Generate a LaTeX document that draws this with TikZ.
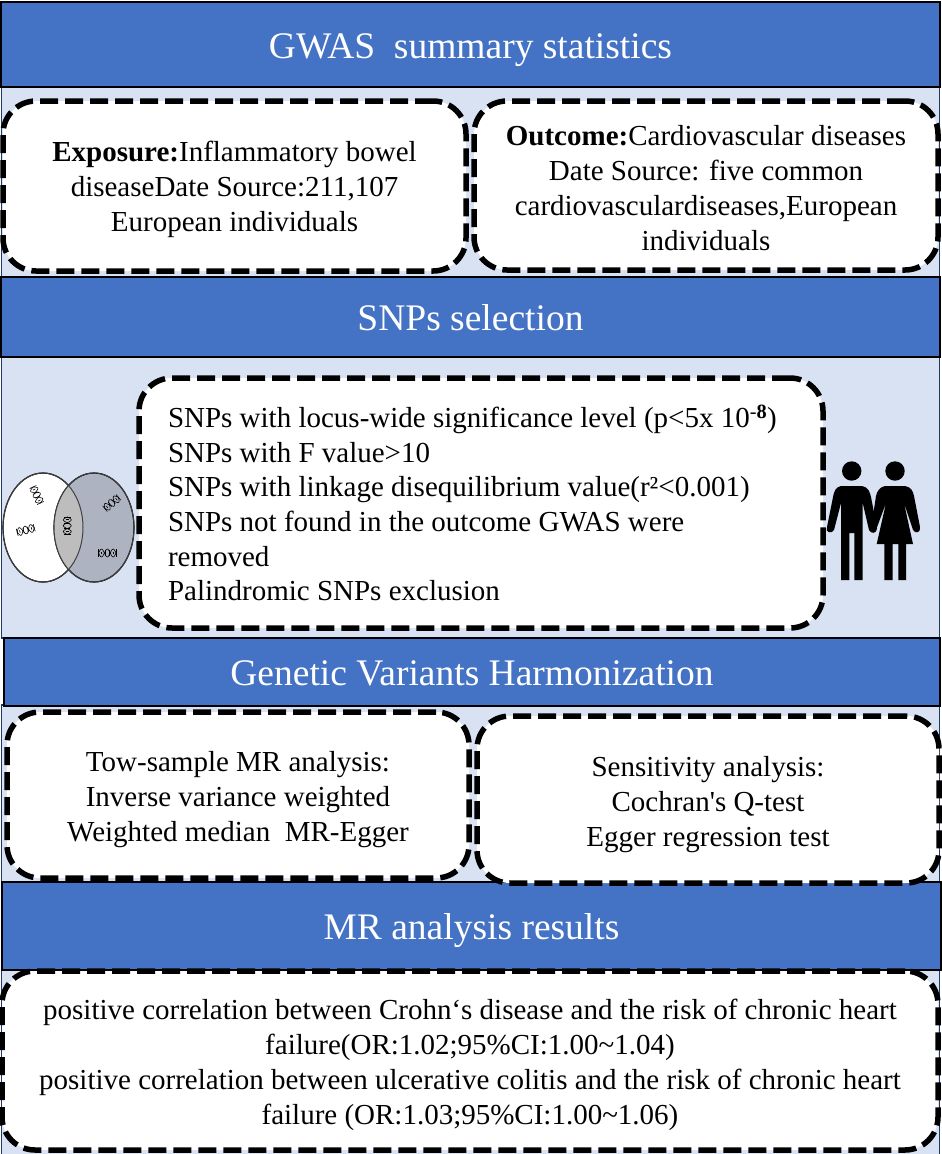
\documentclass[tikz,border=0pt]{standalone}
\usepackage{fontspec}
\setmainfont{Liberation Serif}
\definecolor{headblue}{HTML}{4472C4}
\definecolor{panelblue}{HTML}{D8E2F3}
\definecolor{paneledge}{HTML}{1F3864}
\definecolor{venngrey}{HTML}{ADB3C0}
\definecolor{overlapgrey}{HTML}{BDBDBD}
\tikzset{
  header/.style={draw=black, line width=2pt, fill=headblue, text=white, inner sep=0pt,
    font=\fontsize{37.5}{42}\selectfont},
  panel/.style={draw=paneledge, line width=1.5pt, fill=panelblue, inner sep=0pt},
  dashbox/.style={draw=black, fill=white, line width=5.5pt, rounded corners=33pt,
    dash pattern=on 18pt off 7pt, inner sep=0pt, align=center,
    font=\fontsize{29}{35}\selectfont},
  person/.style={fill=black, draw=none}
}
\newcommand{\headtext}[1]{\smash{\raisebox{-13.5pt}{#1}}}
\newcommand{\firstline}[1]{\rule{0pt}{#1pt}}
\newcommand{\dnaicon}[3]{%
  \begin{scope}[shift={(#1,#2)}, rotate=#3, scale=1.1, line width=0.6pt]
    \draw[smooth, samples=25, domain=-8:8] plot ({\x}, {3.6*cos(34*\x)});
    \draw[smooth, samples=25, domain=-8:8] plot ({\x}, {-3.6*cos(34*\x)});
    \draw (-8,-3.3) -- (-8,3.3) (-5.5,-1.2) -- (-5.5,1.2) (-2,-2.6) -- (-2,2.6)
      (2,-2.6) -- (2,2.6) (5.5,-1.2) -- (5.5,1.2) (8,-3.3) -- (8,3.3);
  \end{scope}}
\begin{document}
\begin{tikzpicture}[x=1pt, y=-1pt]
  \useasboundingbox (0,0) rectangle (942,1154);
  % panels behind the boxes
  \node[panel, minimum width=938, minimum height=190] (exposurepanel) at (470.5,182) {};
  \node[panel, minimum width=938, minimum height=282] (snppanel) at (470.5,497) {};
  \node[panel, minimum width=938, minimum height=178] (mrpanel) at (470.5,794) {};
  \node[panel, minimum width=938, minimum height=186] (resultpanel) at (470.5,1062) {};
  % headers
  \node[header, minimum width=939, minimum height=85] (gwas) at (470.5,44.5) {\headtext{GWAS\ \ summary statistics}};
  \node[header, minimum width=939, minimum height=80] (selection) at (470.5,317) {\headtext{SNPs selection}};
  \node[header, minimum width=936, minimum height=68] (harmonization) at (472,672) {\headtext{Genetic Variants Harmonization}};
  \node[header, minimum width=939, minimum height=88] (results) at (471.5,926) {\headtext{MR analysis results}};
  % dashed boxes
  \node[dashbox, minimum width=463, minimum height=170] (exposure) at (234.5,186)
    {\firstline{28}\textbf{Exposure:}Inflammatory bowel\\ diseaseDate Source:211,107\\ European individuals};
  \node[dashbox, minimum width=464, minimum height=169] (outcome) at (706,185.5)
    {\firstline{26}\textbf{Outcome:}Cardiovascular diseases\\ Date Source: five common\\ cardiovasculardiseases,European\\ individuals};
  \node[dashbox, minimum width=684, minimum height=250] (criteria) at (481,503)
    {\begin{minipage}{626pt}\fontsize{29}{34.6}\selectfont
      SNPs with locus-wide significance level (p<5x 10\textsuperscript{-\textbf{8}})\\
      SNPs with F value>10\\
      SNPs with linkage disequilibrium value(r²<0.001)\\
      SNPs not found in the outcome GWAS were\\
      removed\\
      Palindromic SNPs exclusion
    \end{minipage}};
  \node[dashbox, minimum width=462, minimum height=166] (twosample) at (238,795)
    {\firstline{30}Tow-sample MR analysis:\\ Inverse variance weighted\\ Weighted median\ \ MR-Egger};
  \node[dashbox, minimum width=462, minimum height=167] (sensitivity) at (708,799.5)
    {\firstline{30}Sensitivity analysis:\\ Cochran\textquotesingle s Q-test\\ Egger regression test};
  \node[dashbox, minimum width=936, minimum height=179] (finding) at (470,1060.5)
    {\firstline{30}positive correlation between Crohn‘s disease and the risk of chronic heart\\
     failure(OR:1.02;95\%CI:1.00\textasciitilde 1.04)\\
     positive correlation between ulcerative colitis and the risk of chronic heart\\
     failure (OR:1.03;95\%CI:1.00\textasciitilde 1.06)};
  % venn diagram
  \draw[line width=1.2pt, fill=white] (43,527.5) ellipse [x radius=40, y radius=54.5];
  \draw[line width=1.2pt, fill=venngrey] (94,527.5) ellipse [x radius=40, y radius=54.5];
  \begin{scope}
    \clip (43,527.5) ellipse [x radius=40, y radius=54.5];
    \fill[overlapgrey] (94,527.5) ellipse [x radius=40, y radius=54.5];
  \end{scope}
  \draw[line width=1pt, black!75] (43,527.5) ellipse [x radius=40, y radius=54.5];
  \draw[line width=1pt, black!75] (94,527.5) ellipse [x radius=40, y radius=54.5];
  \dnaicon{36.7}{495}{-65}
  \dnaicon{25.7}{530}{15}
  \dnaicon{67.3}{525.7}{90}
  \dnaicon{111.7}{503}{40}
  \dnaicon{107.3}{553}{0}
  % man
  \fill[person] (851.7,471) circle (9.7);
  \fill[person] (841,486) -- (862,486) .. controls (868,487) and (870,492) .. (871,497)
    -- (877,528) .. controls (877,534) and (871,534) .. (869,530) -- (862.7,503)
    -- (862.7,580) -- (854.3,580) -- (854.3,533) -- (849.3,533) -- (849.3,580)
    -- (841,580) -- (841,503) -- (834,530) .. controls (832,534) and (825,533) .. (827,527)
    -- (833,497) .. controls (834,491) and (836,487) .. (841,486) -- cycle;
  % woman
  \fill[person] (885,486) -- (905,486) .. controls (911,487) and (913,491) .. (914,496)
    -- (920,527) .. controls (921,533) and (915,534) .. (913,530) -- (904,503)
    -- (913,544) -- (906,544) -- (906,580) -- (898.3,580) -- (898.3,544) -- (892.7,544)
    -- (892.7,580) -- (884.3,580) -- (884.3,544) -- (876.7,544) -- (886,503)
    -- (876,530) .. controls (875,533) and (871,533) .. (871,529)
    -- (876,496) .. controls (877,491) and (880,487) .. (885,486) -- cycle;
  \fill[person] (895,471) circle (9.7);
\end{tikzpicture}
\end{document}
